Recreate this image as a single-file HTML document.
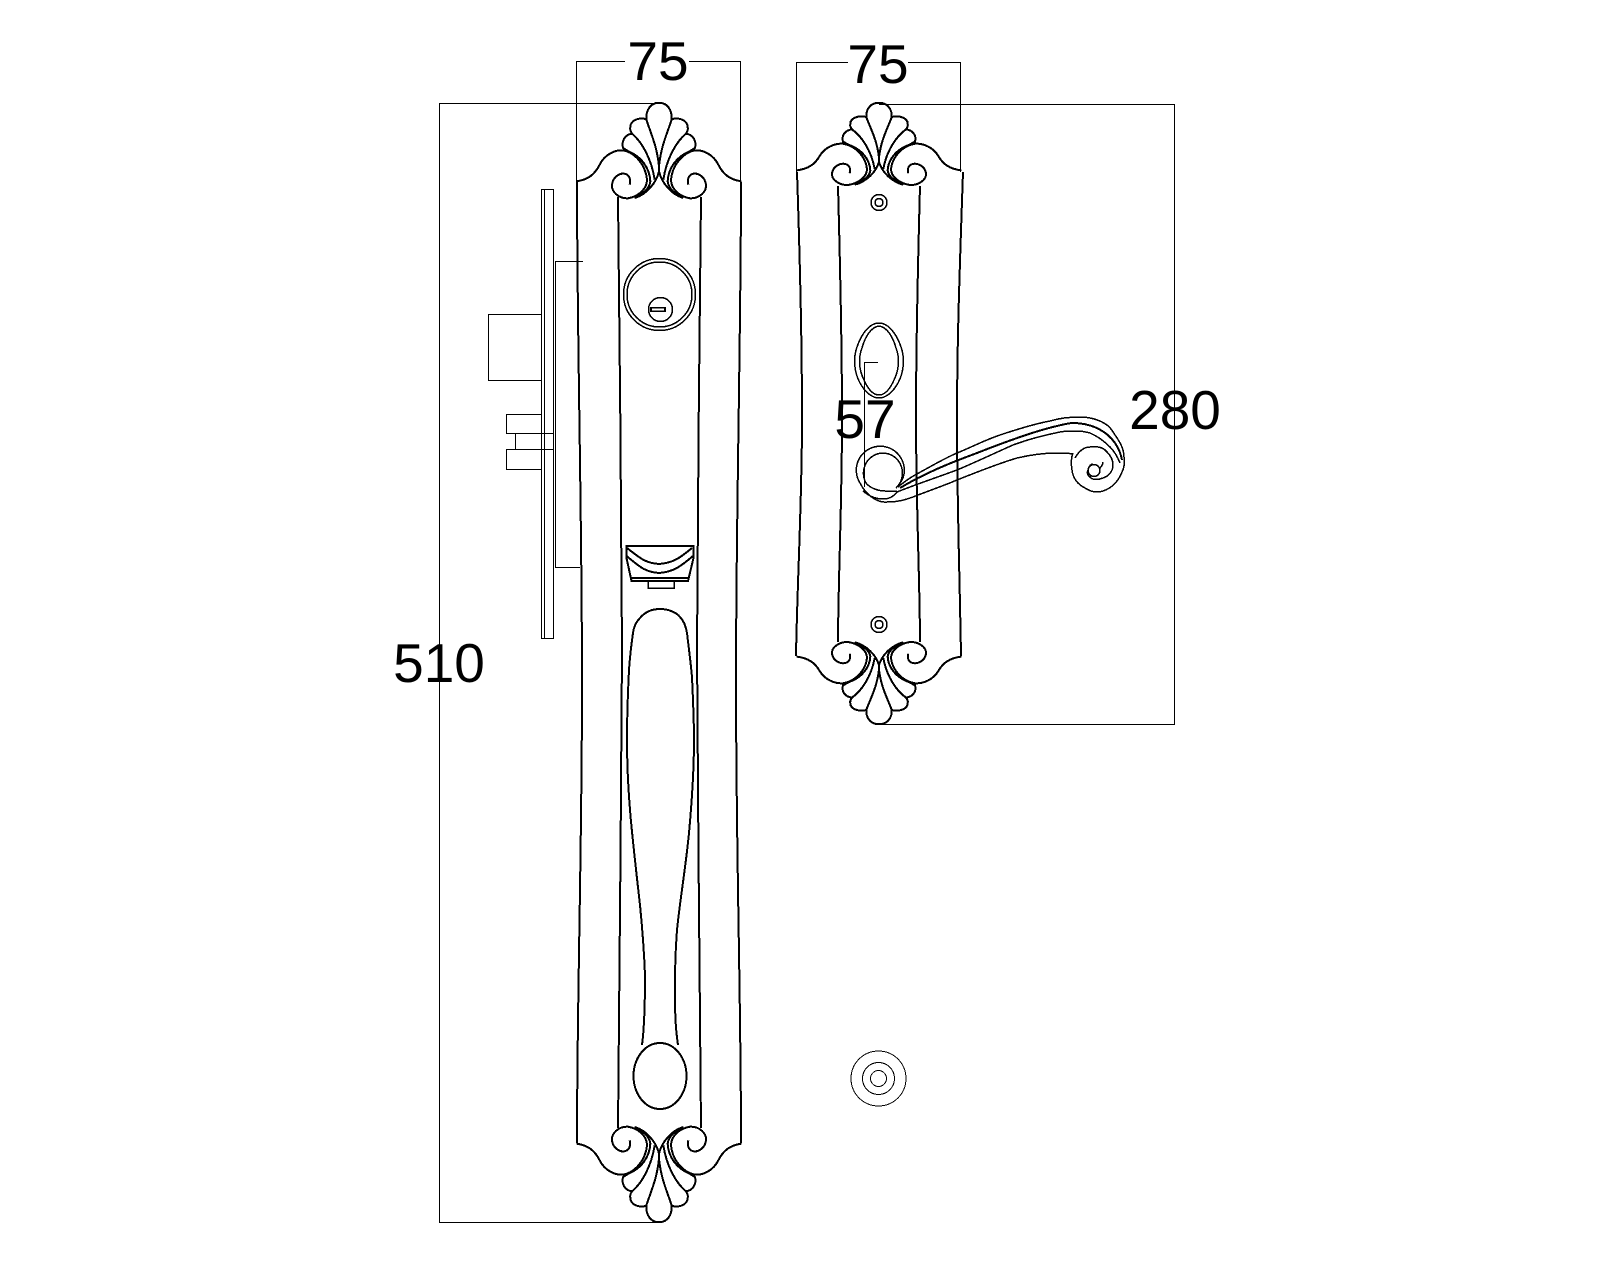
<!DOCTYPE html>
<html>
<head>
<meta charset="utf-8">
<style>
html,body{margin:0;padding:0;background:#fff;width:1600px;height:1280px;overflow:hidden}
svg{display:block}
text{font-family:"Liberation Sans",sans-serif;font-size:55px;fill:#000;text-anchor:middle}
.t{fill:none;stroke:#000;stroke-width:1;shape-rendering:crispEdges}
.m{fill:none;stroke:#000;stroke-width:1.5;shape-rendering:crispEdges}
.k{fill:none;stroke:#000;stroke-width:2;shape-rendering:crispEdges}
.f path{fill:none;stroke:#000;stroke-width:2;vector-effect:non-scaling-stroke;shape-rendering:crispEdges}
</style>
</head>
<body>
<svg width="1600" height="1280" viewBox="0 0 1600 1280" xmlns="http://www.w3.org/2000/svg">
<defs>
<g id="fan" class="f">
<path d="M358,70 C335,68 318,90 320,120 C335,165 352,200 358,260"/>
<path d="M322,120 C305,112 280,118 273,135 C270,150 272,155 277,162 C305,185 335,235 345,300"/>
<path d="M277,162 C255,165 245,185 250,205 L270,217"/>
<path d="M111,305 C145,300 165,285 180,255 C195,225 225,210 250,212 C285,218 318,255 322,300 C322,325 300,350 265,356 C235,357 215,335 217,315 C220,290 245,275 262,285 C272,292 273,305 270,315"/>
<path d="M270,217 C305,232 330,265 332,305 C330,325 310,345 285,355"/>
<path d="M358,240 L358,275 C350,310 320,345 285,355"/>
</g>
<g id="half">
<use href="#fan"/>
<use href="#fan" transform="translate(716,0) scale(-1,1)"/>
</g>
</defs>

<!-- dimensions -->
<path class="t" d="M576.5,182V61.5H625M689,61.5H740.5V182"/>
<path class="t" d="M796.5,172V62.5H848M908,62.5H960.5V172"/>
<path class="t" d="M659,103.5H439.5V1222.5H659"/>
<path class="t" d="M879,104.5H1174.5V724.5H879"/>

<!-- lock body -->
<rect class="t" x="541.5" y="189.5" width="12" height="449"/>
<path class="t" d="M544.5,189V638"/>
<path class="t" d="M583,261.5H555.5V567.5H580"/>
<path class="t" d="M541,314.5H488.5V380.5H541"/>
<path class="t" d="M541,414.5H506.5V433.5H553M515.5,433.5V449.5M553,449.5H506.5V469.5H541"/>

<!-- plate 1 -->
<path class="k" d="M577,182 C577,330 582,520 582,680 C582,850 577,1000 577,1143"/>
<path class="k" d="M741,182 C741,330 736,520 736,680 C736,850 741,1000 741,1143"/>
<path class="k" d="M618,197 C619,330 622,520 622,650 C622,800 618,1000 618,1128"/>
<path class="k" d="M701,197 C700,330 697,520 697,650 C697,800 701,1000 701,1128"/>
<g transform="translate(659,103) scale(.3333,.3333) translate(-358,-70)"><use href="#half"/></g>
<g transform="translate(659,1222) scale(.3333,-.3333) translate(-358,-70)"><use href="#half"/></g>

<!-- cylinder -->
<circle class="m" cx="659.5" cy="294.5" r="36"/>
<circle class="m" cx="659.5" cy="294.5" r="32.5"/>
<circle class="m" cx="660.5" cy="309.5" r="12"/>
<rect x="650" y="307" width="16" height="5" fill="#000"/>
<rect x="652" y="308.5" width="12" height="2" fill="#fff"/>

<!-- thumb latch -->
<path class="k" d="M626.5,546H693.5V558L688,581H631.5L626.5,558Z"/>
<path class="k" d="M627,548 C640,558 645,563 659,564 C673,563 680,558 692,548"/>
<path class="k" d="M626.5,556 C640,567 645,572 659,573 C673,572 680,567 693,556"/>
<path class="k" d="M631,578H689"/>
<path class="m" d="M648,581V588H674V581"/>

<!-- handle -->
<path class="k" d="M642,1045 C644,1030 645,1000 645,975 C644,950 642,925 640,905 C636,870 632,835 630,810 C628,785 627,760 627,740 C627,715 628,690 629,670 C630,655 632,640 633,633 C634,625 637,621 640,618 C645,612 652,609 660,609 C668,609 676,612 680,617 C684,621 686,627 687,633 C689,650 691,665 692,677 C693,700 694,720 694,740 C694,770 692,800 689,833 C686,865 680,900 677,930 C675,955 675,975 675,1000 C675,1020 676,1032 678,1045"/>
<ellipse class="k" cx="660" cy="1076" rx="26.5" ry="33"/>

<!-- plate 2 -->
<path class="k" d="M797,172 C800,260 802,340 802,420 C802,500 797,590 796,656"/>
<path class="k" d="M963,172 C960,260 957,340 957,420 C957,500 960,590 961,656"/>
<path class="k" d="M838,186 C840,260 842,340 842,420 C842,500 838,590 838,642"/>
<path class="k" d="M920,186 C918,260 916,340 916,420 C916,500 920,590 920,642"/>
<g transform="translate(879,103) scale(.3333,.2867) translate(-358,-70)"><use href="#half"/></g>
<g transform="translate(879,724) scale(.3333,-.2867) translate(-358,-70)"><use href="#half"/></g>

<circle class="m" cx="879" cy="202.5" r="8"/><circle class="m" cx="879" cy="202.5" r="4"/>
<circle class="m" cx="879" cy="624.5" r="8"/><circle class="m" cx="879" cy="624.5" r="4"/>

<!-- oval escutcheon -->
<path class="m" d="M879,323 C869,323 861,335 857,347 C853,358 854,372 860,383 C865,392 872,398 879,398 C886,398 893,392 898,383 C904,372 905,358 901,347 C897,335 889,323 879,323Z"/>
<path class="m" d="M879,326 C871,327 865,337 862,348 C858,358 859,370 864,380 C868,389 873,395 879,395 C885,395 890,389 894,380 C899,370 900,358 896,348 C893,337 887,327 879,326Z"/>
<path class="t" d="M878,362.5H864.5V487"/>

<!-- lever rosette -->
<path class="m" d="M896,488 A19.5,20 0 1 0 866,483 C870,488 878,491 885,491 L897,491"/>
<path class="m" d="M903,478 A24,24 0 1 0 860,483 C866,495 877,503 887,502"/>
<path class="m" d="M903,478 L898,487"/>
<path class="m" d="M863,491 C870,497 876,499 883,499 C889,499 893,497 897,492"/>

<!-- lever -->
<path class="m" d="M898,487 C904,482 908,479 915,475 C930,467 943,459 957,453 C972,447 985,440 1000,435 C1018,429 1034,424 1050,421 C1060,418 1070,417 1080,417 C1090,417 1100,420 1107,425 C1111,428 1113,432 1115,435 C1120,442 1124,449 1124,457 C1125,463 1124,468 1122,472 C1118,482 1112,488 1103,491 C1097,493 1091,492 1085,488 C1077,484 1073,478 1072,470 C1071,464 1071,458 1073,453"/>
<path class="k" d="M900,488 C925,473 950,463 977,453 C1005,442 1035,431 1057,426 C1065,424 1070,423 1073,423 C1083,423 1090,425 1097,428 C1105,432 1111,437 1115,443 C1119,449 1121,454 1122,460"/>
<path class="m" d="M897,492 C917,484 938,477 957,470 C976,462 995,453 1013,445 C1029,439 1045,435 1060,432 C1065,431 1072,431 1078,431 C1082,431 1086,432 1090,433 C1097,436 1104,441 1110,447 C1115,452 1118,458 1120,463"/>
<path class="m" d="M887,502 C900,502 907,499 913,497 C928,491 943,486 957,480 C977,472 997,464 1017,458 C1030,455 1044,453 1057,453 C1063,453 1068,453 1073,454"/>
<path class="m" d="M1075,458 C1079,451 1084,447 1090,447 C1098,446 1104,448 1107,452 C1111,456 1113,460 1113,465 C1113,471 1109,476 1103,478 C1098,480 1092,480 1090,477 C1087,475 1087,472 1088,470 C1089,466 1091,464 1093,464 M1100,468 C1102,466 1103,464 1103,462"/>
<circle class="m" cx="1094" cy="470.5" r="6"/>

<!-- bottom ring -->
<circle class="t" cx="878.5" cy="1078.5" r="27.5"/>
<circle class="t" cx="878.5" cy="1078.5" r="16"/>
<circle class="t" cx="878.5" cy="1078.5" r="8"/>

<!-- labels -->
<text x="658" y="80">75</text>
<text x="878" y="83">75</text>
<text x="439" y="682">510</text>
<text x="1175" y="429">280</text>
<text x="865" y="438">57</text>
</svg>
</body>
</html>
